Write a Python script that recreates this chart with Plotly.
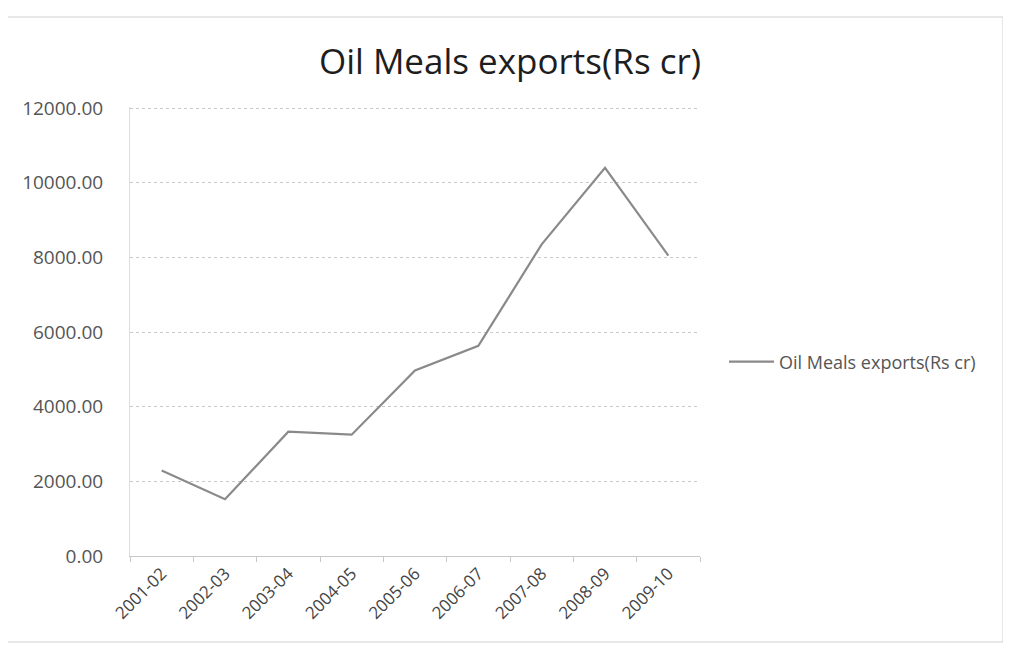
import plotly.graph_objects as go

categories = ["2001-02", "2002-03", "2003-04", "2004-05", "2005-06",
              "2006-07", "2007-08", "2008-09", "2009-10"]
exports = [2290, 1520, 3330, 3250, 4970, 5630, 8350, 10400, 8050]
series_name = "Oil Meals exports(Rs cr)"
y_ticks = [0, 2000, 4000, 6000, 8000, 10000, 12000]

# page body has an 8px margin, so the figure is sized to fit inside it
W, H = 1003, 643
L, R, T, B = 122, 311, 99, 95
pw, ph = W - L - R, H - T - B

FONT = "Open Sans, Lato, sans-serif"

fig = go.Figure()
fig.add_trace(go.Scatter(
    x=categories, y=exports, mode="lines", name=series_name,
    line=dict(color="#8a8a8a", width=2.2),
))

fig.update_layout(
    width=W, height=H,
    margin=dict(l=L, r=R, t=T, b=B, autoexpand=False),
    paper_bgcolor="white", plot_bgcolor="white",
    font=dict(family=FONT, color="#555555"),
    title=dict(text="Oil Meals exports(Rs cr)", x=502 / W, xanchor="center",
               y=1 - 54 / H, yanchor="middle",
               font=dict(size=35, color="#1e1e1e", family=FONT)),
    showlegend=True,
    legend=dict(x=(716 - L) / pw, y=(H - B - 354) / ph, xanchor="left", yanchor="middle",
                font=dict(size=18, color="#555555"), bgcolor="rgba(0,0,0,0)",
                itemwidth=45),
    xaxis=dict(
        type="category", range=[-0.5, 8.5], tickangle=-45,
        tickfont=dict(size=17, color="#444444"),
        showgrid=False, showline=True, linecolor="#c8c8c8", linewidth=1,
        ticks="outside", ticklen=5, tickcolor="#c8c8c8", tickson="boundaries",
    ),
    yaxis=dict(
        range=[0, 12030], tickvals=y_ticks,
        ticktext=[f"{v:.2f}" for v in y_ticks],
        tickfont=dict(size=19, color="#555555"),
        showgrid=True, gridcolor="#c8c8c8", griddash="dot", gridwidth=1,
        showline=True, linecolor="#dddddd", linewidth=1,
        zeroline=False, ticks="", ticklabelstandoff=22,
    ),
    shapes=[dict(type="rect", xref="paper", yref="paper",
                 x0=(-1 - L) / pw, x1=(995 - L) / pw,
                 y0=(H - B - 634) / ph, y1=(H - B - 9) / ph,
                 line=dict(color="#d0d0d0", width=1), fillcolor="rgba(0,0,0,0)",
                 layer="below")],
)

fig.write_html("out.html")
